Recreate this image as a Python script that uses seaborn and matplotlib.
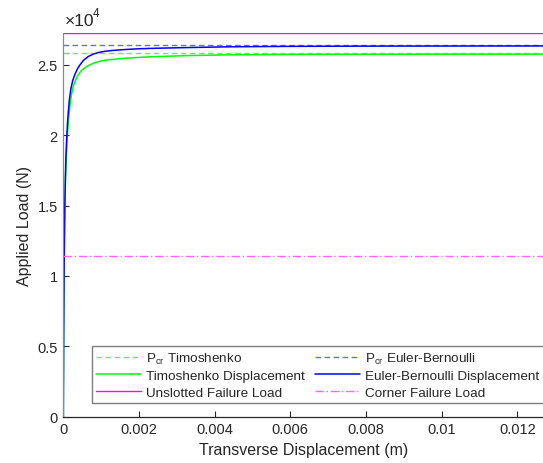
import matplotlib
matplotlib.use("Agg")
import matplotlib.pyplot as plt
import seaborn as sns
import pandas as pd
from matplotlib.ticker import FixedLocator

sns.set_theme(style="white")
plt.rcParams["font.family"] = ["Liberation Sans", "DejaVu Sans"]
plt.rcParams["mathtext.fontset"] = "custom"
plt.rcParams["mathtext.rm"] = "Liberation Sans"
plt.rcParams["mathtext.it"] = "Liberation Sans"

# Load levels (N)
p_cr_timoshenko = 25830.0
p_cr_euler = 26420.0
unslotted_failure = 27270.0
corner_failure = 11440.0

# Load-displacement response, Euler-Bernoulli beam
eb_disp = [0.0, 0.000010, 0.000020, 0.000030, 0.000040, 0.000055, 0.000070,
           0.000090, 0.000110, 0.000130, 0.000160, 0.000200, 0.000250,
           0.000310, 0.000380, 0.000440, 0.000530, 0.000660, 0.000800,
           0.000925, 0.001100, 0.001300, 0.001600, 0.002000, 0.002500,
           0.003200, 0.004400, 0.006000, 0.008400, 0.012700]
eb_load = [0.0, 6000.0, 10000.0, 12800.0, 15000.0, 17000.0, 18500.0,
           19800.0, 20800.0, 21600.0, 22500.0, 23300.0, 23900.0,
           24350.0, 24750.0, 25000.0, 25320.0, 25600.0, 25780.0,
           25880.0, 25970.0, 26030.0, 26090.0, 26150.0, 26190.0,
           26230.0, 26290.0, 26320.0, 26340.0, 26350.0]

# Load-displacement response, Timoshenko beam
ti_disp = [0.0, 0.000010, 0.000020, 0.000030, 0.000043, 0.000058, 0.000075,
           0.000095, 0.000120, 0.000145, 0.000175, 0.000210, 0.000264,
           0.000330, 0.000396, 0.000480, 0.000570, 0.000660, 0.000800,
           0.001010, 0.001240, 0.001600, 0.002290, 0.003200, 0.004400,
           0.006000, 0.008400, 0.012700]
ti_load = [0.0, 6000.0, 10000.0, 12700.0, 15000.0, 16900.0, 18300.0,
           19500.0, 20500.0, 21300.0, 22100.0, 22800.0, 23500.0,
           23950.0, 24300.0, 24600.0, 24800.0, 24950.0, 25130.0,
           25300.0, 25380.0, 25470.0, 25580.0, 25660.0, 25720.0,
           25750.0, 25760.0, 25770.0]

y_ticks = [0, 5000, 10000, 15000, 20000, 25000]
y_tick_labels = ["0", "0.5", "1", "1.5", "2", "2.5"]
x_ticks = [0, 0.002, 0.004, 0.006, 0.008, 0.010, 0.012]
x_tick_labels = ["0", "0.002", "0.004", "0.006", "0.008", "0.01", "0.012"]

fig = plt.figure(figsize=(5.43, 4.64), dpi=100)
ax = fig.add_axes([63.3 / 543, 46.3 / 464, 479.7 / 543, 383.7 / 464])

ink = "#262626"

ax.axhline(p_cr_timoshenko, color="#55ff55", lw=1.0, ls=(0, (4, 2.5)),
           label=r"$\mathregular{P_{cr}}$ Timoshenko")
ax.axhline(p_cr_euler, color="#6a6aff", lw=1.0, ls=(0, (4, 2.5)),
           label=r"$\mathregular{P_{cr}}$ Euler-Bernoulli")

ti = pd.DataFrame({"d": ti_disp, "P": ti_load})
eb = pd.DataFrame({"d": eb_disp, "P": eb_load})
sns.lineplot(data=ti, x="d", y="P", ax=ax, sort=False, estimator=None,
             color="#00ff00", lw=1.1, label="Timoshenko Displacement")
sns.lineplot(data=eb, x="d", y="P", ax=ax, sort=False, estimator=None,
             color="#0000ff", lw=1.1, label="Euler-Bernoulli Displacement")

ax.axhline(unslotted_failure, color="#ff00ff", lw=1.0,
           label="Unslotted Failure Load")
ax.axhline(corner_failure, color="#ff66ff", lw=1.0, ls=(0, (6, 2, 1, 2)),
           label="Corner Failure Load")

ax.set_xlim(0, 0.01268)
ax.set_ylim(0, unslotted_failure)

ax.yaxis.set_major_locator(FixedLocator(y_ticks))
ax.set_yticklabels(y_tick_labels)
ax.xaxis.set_major_locator(FixedLocator(x_ticks))
ax.set_xticklabels(x_tick_labels)
ax.tick_params(axis="both", direction="in", length=4.5, width=0.8,
               colors=ink, labelsize=10.5, pad=4, left=True, bottom=True)

for side in ("top", "right"):
    ax.spines[side].set_visible(False)
ax.spines["left"].set_color("#8a8a8a")
ax.spines["left"].set_linewidth(0.9)
ax.spines["bottom"].set_color(ink)
ax.spines["bottom"].set_linewidth(0.9)

ax.set_xlabel("Transverse Displacement (m)", fontsize=11.5, color=ink,
              labelpad=4)
ax.set_ylabel("Applied Load (N)", fontsize=11.5, color=ink, labelpad=4)

# Scale factor above the y axis
ax.annotate("\u00d710", xy=(0, 1), xycoords="axes fraction",
            xytext=(1, 6), textcoords="offset points", fontsize=12.5,
            color=ink, ha="left", va="baseline")
ax.annotate("4", xy=(0, 1), xycoords="axes fraction",
            xytext=(21.2, 12.5), textcoords="offset points", fontsize=8.5,
            color=ink, ha="left", va="baseline")

handles, labels = ax.get_legend_handles_labels()
order = [labels.index(n) for n in [
    r"$\mathregular{P_{cr}}$ Timoshenko",
    "Timoshenko Displacement",
    "Unslotted Failure Load",
    r"$\mathregular{P_{cr}}$ Euler-Bernoulli",
    "Euler-Bernoulli Displacement",
    "Corner Failure Load",
]]
leg = ax.legend([handles[i] for i in order], [labels[i] for i in order],
                ncol=2, loc="lower left",
                bbox_to_anchor=(0.0592, 0.0349),
                borderaxespad=0, fontsize=9.7,
                handlelength=3.33, handletextpad=0.37, columnspacing=0.75,
                labelspacing=0.3, borderpad=0.35, frameon=True,
                fancybox=False, framealpha=1)
leg.get_frame().set_edgecolor("#7f7f7f")
leg.get_frame().set_linewidth(1.0)
for t in leg.get_texts():
    t.set_color(ink)

fig.savefig("out.png", dpi=100)
